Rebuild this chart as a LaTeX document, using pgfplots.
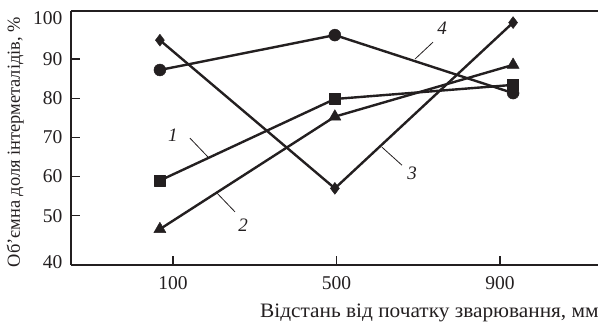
\documentclass[border=0pt]{standalone}
\usepackage{fontspec}
\setmainfont{Liberation Serif}
\usepackage{pgfplots}
\pgfplotsset{compat=1.18}
\definecolor{ink}{HTML}{231F20}
\begin{document}
\begin{tikzpicture}
\begin{axis}[
  at={(0,0)}, anchor=south west,
  scale only axis, width=529pt, height=254pt,
  xmin=-149.5, xmax=1144.6, ymin=37.45, ymax=102.25,
  axis lines*=left,
  axis line style={ink, line width=1.3pt},
  xtick={100,500,900}, ytick={50,60,70,80,90},
  extra y ticks={38.2,100.46}, extra y tick labels={40,100},
  extra y tick style={tick style={draw=none}},
  tick align=inside, major tick length=9pt,
  tick style={ink, line width=1.2pt},
  ticklabel style={font=\fontsize{19.5}{19.5}\selectfont, text=ink},
  /pgf/number format/assume math mode=true,
  xticklabel style={yshift=-8pt},
  yticklabel style={xshift=-5pt},
  clip=false,
]
\draw[ink, line width=1.3pt] (rel axis cs:0,1) -- (rel axis cs:1,1);
\addplot[ink, line width=2.4pt, line join=round, mark=square*, mark size=5.5pt, mark options={solid, fill=ink, line width=0.4pt}]
  coordinates {(68,59) (496,79.8) (932,83.4)};
\addplot[ink, line width=2.4pt, line join=round, mark=triangle*, mark size=7pt, mark options={solid, fill=ink, line width=0.4pt}]
  coordinates {(68,46.6) (496,75.3) (932,88.5)};
\addplot[ink, line width=2.4pt, line join=round, mark=diamond*, mark size=6pt, mark options={solid, fill=ink, line width=0.4pt}]
  coordinates {(68,94.8) (496,57) (932,99.3)};
\addplot[ink, line width=2.4pt, line join=round, mark=*, mark size=6pt, mark options={solid, fill=ink, line width=0.4pt}]
  coordinates {(68,87.2) (496,96.1) (932,81.3)};
% series number labels with leader lines
\draw[ink, line width=0.8pt] (axis cs:141.6,69.8) -- (axis cs:185.6,65.0);
\node[ink, font=\fontsize{19}{19}\selectfont\itshape] at (axis cs:100,70.6) {1};
\draw[ink, line width=0.8pt] (axis cs:207.6,55.8) -- (axis cs:251.7,51.0);
\node[ink, font=\fontsize{19}{19}\selectfont\itshape] at (axis cs:271.3,47.7) {2};
\draw[ink, line width=0.8pt] (axis cs:611.3,67.5) -- (axis cs:660.2,62.9);
\node[ink, font=\fontsize{19}{19}\selectfont\itshape] at (axis cs:684.7,60.9) {3};
\draw[ink, line width=0.8pt] (axis cs:736.1,94.3) -- (axis cs:692.1,90.0);
\node[ink, font=\fontsize{19}{19}\selectfont\itshape] at (axis cs:758.1,97.9) {4};
% axis labels
\node[ink, anchor=base west, inner sep=0pt, font=\fontsize{20.5}{20.5}\selectfont, xscale=1.04] at (axis cs:312.8,23.93) {Відстань від початку зварювання, мм};
\node[ink, anchor=base, rotate=90, inner sep=0pt, font=\fontsize{18.4}{18.4}\selectfont] at (axis cs:-274.3,68.8) {Об’ємна доля інтерметалідів, \%};
\end{axis}
\pgfresetboundingbox
\path[use as bounding box] (-71pt,-58pt) rectangle (527pt,265pt);
\end{tikzpicture}
\end{document}
